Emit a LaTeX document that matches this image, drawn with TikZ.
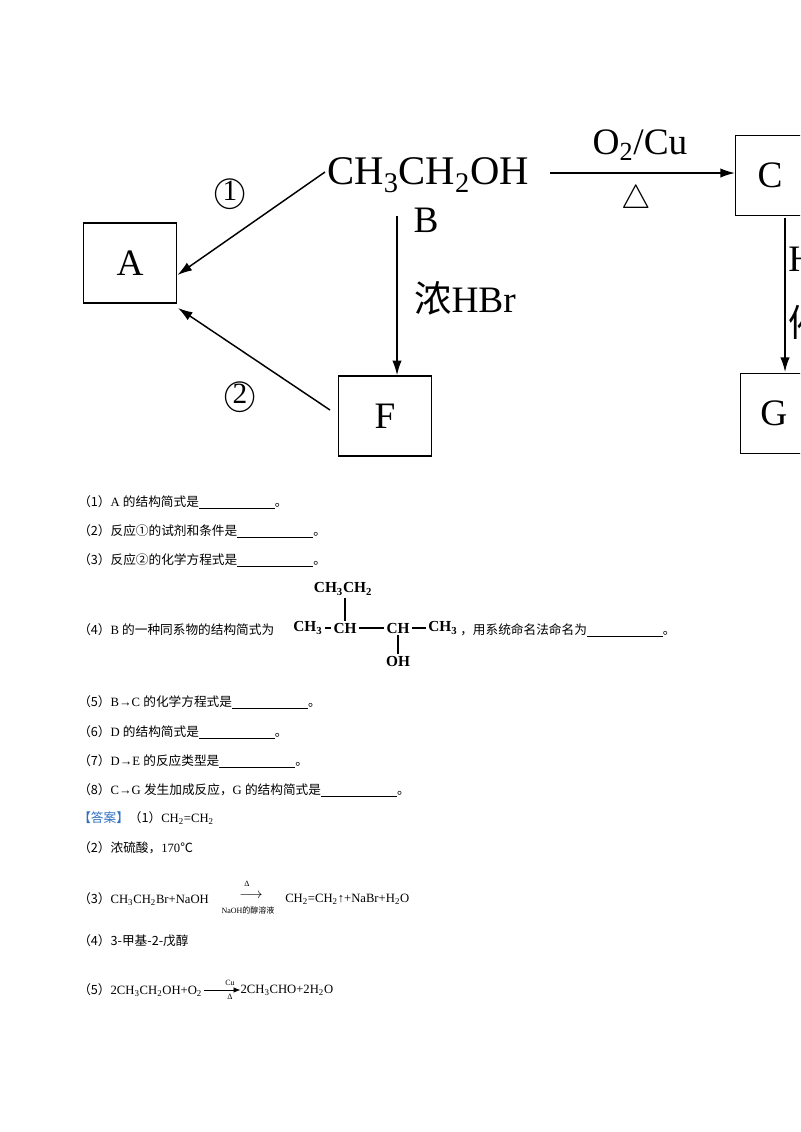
\documentclass[tikz,border=0pt]{standalone}
\usepackage{fontspec}
\setmainfont{Liberation Serif}
\newfontfamily\cjk{Noto Sans CJK SC}
\newcommand{\zh}[1]{{\cjk #1}}
\newcommand{\blank}{\rule[-1.5pt]{57pt}{0.5pt}}
\begin{document}
\begin{tikzpicture}[x=0.75pt,y=-0.75pt,
  box/.style={draw,line width=1.1pt,minimum width=70pt,minimum height=60pt,font=\fontsize{28}{30}\selectfont},
  big/.style={font=\fontsize{28}{30}\selectfont,inner sep=0pt},
  arr/.style={line width=1.1pt,-{Latex[length=11pt,width=7pt]}},
  ln/.style={anchor=west,font=\fontsize{9.5}{11}\selectfont,inner sep=0pt},
  sm/.style={font=\fontsize{6}{7}\selectfont,inner sep=0pt}]
\usetikzlibrary{arrows.meta}
\useasboundingbox (0,0) rectangle (800,1132);
\clip (0,0) rectangle (800,1132);
% diagram
\node[box] (A) at (130,263) {A};
\node[box] (F) at (385,416) {F};
\node[box,anchor=north west] (C) at (735,135) {C\phantom{C}};
\node[box,anchor=north west] (G) at (740,373) {G\phantom{G}};
\node[big,anchor=west,font=\fontsize{30.5}{32}\selectfont] (E) at (327,175) {CH\textsubscript{3}CH\textsubscript{2}OH};
\node[big] (B) at (426,220) {B};
\node[big] (c1) at (230,195) {\fontsize{30}{30}\selectfont\textcircled{\raisebox{1pt}{\fontsize{22}{22}\selectfont 1}}};
\node[big] (c2) at (240,398) {\fontsize{30}{30}\selectfont\textcircled{\raisebox{1pt}{\fontsize{22}{22}\selectfont 2}}};
\node[big] (hbr) at (465,298) {\zh{浓}HBr};
\node[big] (o2) at (640,145) {O\textsubscript{2}/Cu};
\node[big] (tri) at (636,200) {$\bigtriangleup$};
\node[big,anchor=west] (h2) at (788,262) {H\textsubscript{2}};
\node[big,anchor=west] (cat) at (788,322) {\zh{催化剂}};
\coordinate (e1) at (325,172);
\coordinate (f1) at (330,410);
\draw[arr] (e1) -- (A.north east |- 0,275) ;
\draw[arr] (f1) -- (178,308);
\draw[arr] (397,216) -- (F.north -| 397,0);
\draw[arr] (550,173) coordinate (e2) -- (C.west |- e2);
\draw[arr] (785,218) -- (785,372);
% questions
\node[ln] (q1) at (78,502) {\zh{（1）}A \zh{的结构简式是}\blank\zh{。}};
\node[ln] (q2) at (78,531) {\zh{（2）反应①的试剂和条件是}\blank\zh{。}};
\node[ln] (q3) at (78,560) {\zh{（3）反应②的化学方程式是}\blank\zh{。}};
\node[ln] (q4) at (78,630) {\zh{（4）}B \zh{的一种同系物的结构简式为}};
\begin{scope}[every node/.style={font=\fontsize{11.5}{12}\selectfont\bfseries,inner sep=1.5pt}]
\node[anchor=west] (s1) at (291,628) {CH\textsubscript{3}};
\node (s2) at (345,628) {CH};
\node (s3) at (398,628) {CH};
\node[anchor=west] (s4) at (426,628) {CH\textsubscript{3}};
\node (s5) at (343,589) {CH\textsubscript{3}CH\textsubscript{2}};
\node (s6) at (398,661) {OH};
\end{scope}
\draw[line width=0.8pt] (s1.east) -- (s2.west) (s2.east) -- (s3.west) (s3.east) -- (s4.west)
  (s2.north) -- (s5.south -| s2.north) (s3.south) -- (s6.north);
\node[ln] (q4b) at (460,630) {\zh{，用系统命名法命名为}\blank\zh{。}};
\node[ln] (q5) at (78,702) {\zh{（5）}B→C \zh{的化学方程式是}\blank\zh{。}};
\node[ln] (q6) at (78,732) {\zh{（6）}D \zh{的结构简式是}\blank\zh{。}};
\node[ln] (q7) at (78,761) {\zh{（7）}D→E \zh{的反应类型是}\blank\zh{。}};
\node[ln] (q8) at (78,790) {\zh{（8）}C→G \zh{发生加成反应，}G \zh{的结构简式是}\blank\zh{。}};
\node[ln] (a1) at (78,818) {\zh{\textcolor[HTML]{2E6FC0}{【答案】}（1）}CH\textsubscript{2}=CH\textsubscript{2}};
\node[ln] (a2) at (78,848) {\zh{（2）浓硫酸，}170\zh{℃}};
\node[ln] (a3) at (78,899) {\zh{（3）}CH\textsubscript{3}CH\textsubscript{2}Br+NaOH};
\node[sm] (a3t) at (247,884) {Δ};
\node[ln,font=\fontsize{11}{11}\selectfont] (a3a) at (239,896) {$\longrightarrow$};
\node[sm] (a3b) at (248,910) {NaOH\zh{的醇溶液}};
\node[ln] (a3c) at (285,899) {CH\textsubscript{2}=CH\textsubscript{2}↑+NaBr+H\textsubscript{2}O};
\node[ln] (a4) at (78,941) {\zh{（4）3-甲基-2-戊醇}};
\node[ln] (a5) at (78,990) {\zh{（5）}2CH\textsubscript{3}CH\textsubscript{2}OH+O\textsubscript{2}};
\draw[-{Latex[length=5pt,width=4pt]},line width=0.5pt] (a5.east) ++(2,0) coordinate (a5s) -- ++(36,0) coordinate (a5e);
\node[sm] at (230,983) {Cu};
\node[sm] at (230,997) {Δ};
\node[ln,anchor=west] (a5b) at (a5e) {2CH\textsubscript{3}CHO+2H\textsubscript{2}O};
\end{tikzpicture}
\end{document}
